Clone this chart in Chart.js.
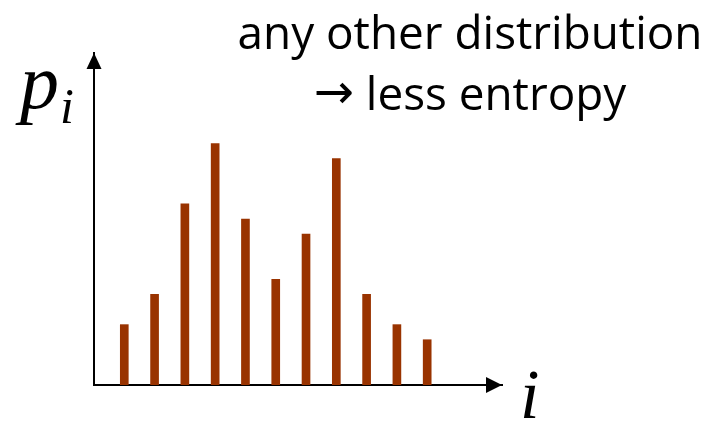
<!DOCTYPE html>
<html>
<head>
<meta charset="utf-8">
<script src="https://cdn.jsdelivr.net/npm/chart.js@4/dist/chart.umd.min.js"></script>
<style>
  html, body { margin: 0; padding: 0; background: #fff; }
  #wrap { width: 716px; height: 421px; }
</style>
</head>
<body>
<div id="wrap"><canvas id="chart_p"></canvas></div>
<script>
// index i of each bar and its probability p_i (in arbitrary units)
var indices = [1, 2, 3, 4, 5, 6, 7, 8, 9, 10, 11];
var probs = [4, 6, 12, 16, 11, 7, 10, 15, 6, 4, 3];
var titleLines = ['any other distribution', '\u2192', ' less entropy'];

var barColor = '#993300';

// arrows at the axis ends plus the text labels
var decorations = {
    id: 'decorations',
    afterDraw: function(chart) {
        var ctx = chart.ctx;
        var a = chart.chartArea;
        ctx.save();
        ctx.fillStyle = '#000';

        // y arrow head
        ctx.beginPath();
        ctx.moveTo(a.left, a.top);
        ctx.lineTo(a.left - 7.5, a.top + 16);
        ctx.lineTo(a.left + 7.5, a.top + 16);
        ctx.closePath();
        ctx.fill();

        // x arrow head
        ctx.beginPath();
        ctx.moveTo(a.right, a.bottom);
        ctx.lineTo(a.right - 16, a.bottom - 8);
        ctx.lineTo(a.right - 16, a.bottom + 8);
        ctx.closePath();
        ctx.fill();

        // p_i and i
        ctx.textBaseline = 'alphabetic';
        ctx.textAlign = 'left';
        ctx.font = 'italic 78px "Liberation Serif"';
        ctx.fillText('p', 20, 108);
        ctx.font = 'italic 50px "Liberation Serif"';
        ctx.fillText('i', 60, 123);
        ctx.font = 'italic 70px "Liberation Serif"';
        ctx.fillText('i', 520, 418);

        // title text, sized to the reference width
        ctx.font = '100px "Open Sans"';
        var size = 100 * 465 / ctx.measureText(titleLines[0]).width;
        ctx.font = size + 'px "Open Sans"';
        ctx.textAlign = 'center';
        ctx.fillText(titleLines[0], 470, 49);

        // second line: arrow glyph from DejaVu Sans, words from Open Sans
        var arrowFont = Math.round(size * 1.05) + 'px "DejaVu Sans"';
        var wordFont = size + 'px "Open Sans"';
        ctx.font = arrowFont;
        var wA = ctx.measureText(titleLines[1]).width;
        ctx.font = wordFont;
        var wB = ctx.measureText(titleLines[2]).width;
        var x0 = 470 - (wA + wB) / 2;
        ctx.textAlign = 'left';
        ctx.font = arrowFont;
        ctx.fillText(titleLines[1], x0, 108);
        ctx.font = wordFont;
        ctx.fillText(titleLines[2], x0 + wA, 110);
        ctx.restore();
    }
};

window.onload = function() {
    var ctx = document.getElementById('chart_p');
    window.myBar = new Chart(ctx, {
        type: 'bar',
        data: {
            datasets: [{
                data: indices.map(function(v, k) { return { x: v, y: probs[k] }; }),
                backgroundColor: barColor,
                borderWidth: 0,
                barThickness: 8
            }]
        },
        options: {
            responsive: true,
            maintainAspectRatio: false,
            animation: false,
            layout: {
                padding: { left: 94, right: 214, top: 53, bottom: 36 }
            },
            plugins: {
                legend: { display: false },
                title: { display: false },
                tooltip: { enabled: false }
            },
            scales: {
                x: {
                    type: 'linear',
                    min: 0,
                    max: 13.47,
                    offset: false,
                    ticks: { display: false },
                    grid: { display: false, drawTicks: false },
                    border: { display: true, color: '#000', width: 2 }
                },
                y: {
                    min: 0,
                    max: 22,
                    ticks: { display: false },
                    grid: { display: false, drawTicks: false },
                    border: { display: true, color: '#000', width: 2 }
                }
            }
        },
        plugins: [decorations]
    });
};
</script>
</body>
</html>
